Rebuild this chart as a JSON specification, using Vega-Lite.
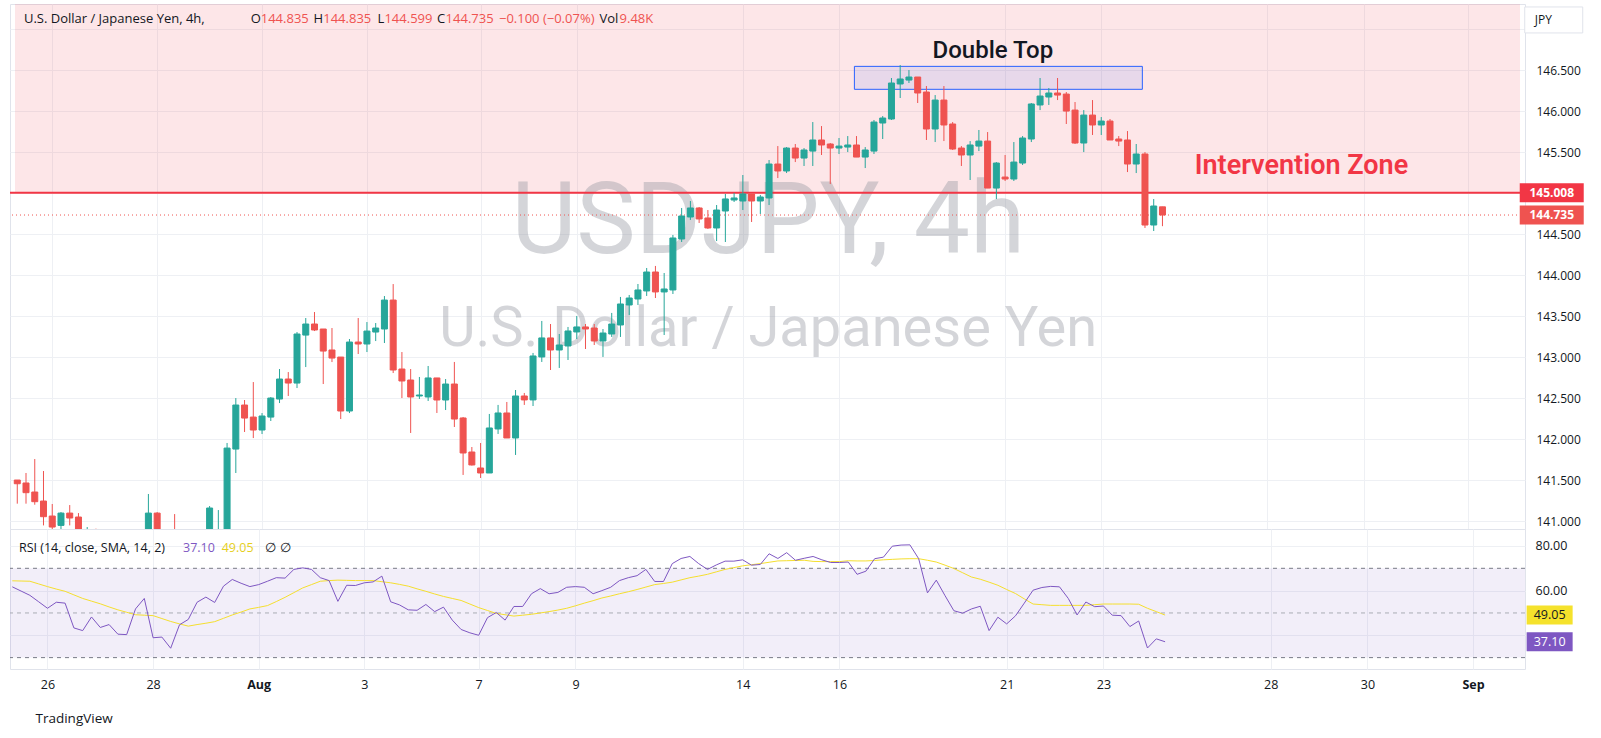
{
  "$schema": "https://vega.github.io/schema/vega-lite/v6.json",
  "background": "#ffffff",
  "padding": {"left": 8, "top": 3, "right": 0, "bottom": 70},
  "bounds": "flush",
  "spacing": 0,
  "config": {
    "view": {"stroke": "#e0e3eb", "strokeWidth": 1},
    "text": {"font": "Open Sans"},
    "axis": {"labelFont": "Open Sans", "titleFont": "Open Sans"}
  },
  "datasets": {
    "candles": [
      {"i":0,"o":141.503,"h":141.503,"l":141.215,"c":141.458},
      {"i":1,"o":141.467,"h":141.589,"l":141.215,"c":141.349},
      {"i":2,"o":141.357,"h":141.759,"l":141.202,"c":141.239},
      {"i":3,"o":141.247,"h":141.613,"l":140.95,"c":141.056},
      {"i":4,"o":141.064,"h":141.211,"l":140.8,"c":140.93},
      {"i":5,"o":140.95,"h":141.113,"l":140.85,"c":141.1},
      {"i":6,"o":141.1,"h":141.198,"l":140.95,"c":141.04},
      {"i":7,"o":141.052,"h":141.1,"l":140.75,"c":140.8},
      {"i":8,"o":140.8,"h":140.93,"l":140.76,"c":140.9},
      {"i":9,"o":140.9,"h":140.91,"l":140.7,"c":140.78},
      {"i":10,"o":140.78,"h":140.86,"l":140.72,"c":140.82},
      {"i":11,"o":140.82,"h":140.85,"l":140.62,"c":140.68},
      {"i":12,"o":140.68,"h":140.74,"l":140.58,"c":140.66},
      {"i":13,"o":140.66,"h":140.76,"l":140.6,"c":140.7},
      {"i":14,"o":140.7,"h":140.9,"l":140.68,"c":140.88},
      {"i":15,"o":140.88,"h":141.333,"l":140.85,"c":141.1},
      {"i":16,"o":141.1,"h":141.113,"l":140.65,"c":140.7},
      {"i":17,"o":140.7,"h":140.8,"l":140.55,"c":140.68},
      {"i":18,"o":140.68,"h":141.088,"l":140.45,"c":140.5},
      {"i":19,"o":140.5,"h":140.8,"l":140.48,"c":140.72},
      {"i":20,"o":140.72,"h":140.85,"l":140.65,"c":140.78},
      {"i":21,"o":140.78,"h":140.9,"l":140.72,"c":140.88},
      {"i":22,"o":140.88,"h":141.186,"l":140.85,"c":141.162},
      {"i":23,"o":140.85,"h":141.137,"l":140.8,"c":140.9},
      {"i":24,"o":140.9,"h":141.955,"l":140.85,"c":141.893},
      {"i":25,"o":141.881,"h":142.503,"l":141.589,"c":142.418},
      {"i":26,"o":142.418,"h":142.479,"l":142.089,"c":142.259},
      {"i":27,"o":142.271,"h":142.698,"l":142.015,"c":142.113},
      {"i":28,"o":142.113,"h":142.32,"l":142.064,"c":142.284},
      {"i":29,"o":142.271,"h":142.515,"l":142.223,"c":142.503},
      {"i":30,"o":142.491,"h":142.857,"l":142.442,"c":142.735},
      {"i":31,"o":142.735,"h":142.82,"l":142.528,"c":142.686},
      {"i":32,"o":142.686,"h":143.308,"l":142.625,"c":143.284},
      {"i":33,"o":143.271,"h":143.479,"l":142.881,"c":143.406},
      {"i":34,"o":143.406,"h":143.552,"l":143.32,"c":143.333},
      {"i":35,"o":143.345,"h":143.345,"l":142.674,"c":143.076},
      {"i":36,"o":143.089,"h":143.357,"l":142.942,"c":142.991},
      {"i":37,"o":143.003,"h":143.003,"l":142.247,"c":142.345},
      {"i":38,"o":142.345,"h":143.223,"l":142.32,"c":143.186},
      {"i":39,"o":143.186,"h":143.479,"l":143.04,"c":143.162},
      {"i":40,"o":143.162,"h":143.43,"l":143.064,"c":143.32},
      {"i":41,"o":143.308,"h":143.418,"l":143.198,"c":143.357},
      {"i":42,"o":143.345,"h":143.747,"l":143.174,"c":143.698},
      {"i":43,"o":143.698,"h":143.893,"l":142.808,"c":142.845},
      {"i":44,"o":142.857,"h":143.064,"l":142.503,"c":142.711},
      {"i":45,"o":142.723,"h":142.857,"l":142.077,"c":142.516},
      {"i":46,"o":142.528,"h":142.76,"l":142.492,"c":142.54},
      {"i":47,"o":142.516,"h":142.894,"l":142.467,"c":142.748},
      {"i":48,"o":142.748,"h":142.748,"l":142.321,"c":142.479},
      {"i":49,"o":142.479,"h":142.735,"l":142.357,"c":142.674},
      {"i":50,"o":142.674,"h":142.943,"l":142.15,"c":142.247},
      {"i":51,"o":142.26,"h":142.272,"l":141.565,"c":141.833},
      {"i":52,"o":141.845,"h":141.906,"l":141.68,"c":141.687},
      {"i":53,"o":141.65,"h":141.955,"l":141.528,"c":141.589},
      {"i":54,"o":141.589,"h":142.309,"l":141.589,"c":142.138},
      {"i":55,"o":142.126,"h":142.419,"l":142.065,"c":142.321},
      {"i":56,"o":142.321,"h":142.455,"l":142.016,"c":142.016},
      {"i":57,"o":142.016,"h":142.601,"l":141.809,"c":142.528},
      {"i":58,"o":142.528,"h":142.565,"l":142.419,"c":142.48},
      {"i":59,"o":142.48,"h":143.053,"l":142.406,"c":143.016},
      {"i":60,"o":143.004,"h":143.443,"l":142.943,"c":143.236},
      {"i":61,"o":143.236,"h":143.406,"l":142.845,"c":143.089},
      {"i":62,"o":143.089,"h":143.284,"l":142.87,"c":143.15},
      {"i":63,"o":143.138,"h":143.37,"l":142.967,"c":143.321},
      {"i":64,"o":143.309,"h":143.504,"l":143.223,"c":143.37},
      {"i":65,"o":143.37,"h":143.406,"l":143.101,"c":143.345},
      {"i":66,"o":143.357,"h":143.406,"l":143.15,"c":143.199},
      {"i":67,"o":143.199,"h":143.345,"l":143.004,"c":143.296},
      {"i":68,"o":143.284,"h":143.541,"l":143.248,"c":143.406},
      {"i":69,"o":143.394,"h":143.736,"l":143.248,"c":143.65},
      {"i":70,"o":143.638,"h":143.76,"l":143.516,"c":143.723},
      {"i":71,"o":143.711,"h":143.894,"l":143.638,"c":143.821},
      {"i":72,"o":143.809,"h":144.089,"l":143.748,"c":144.04},
      {"i":73,"o":144.04,"h":144.114,"l":143.723,"c":143.797},
      {"i":74,"o":143.797,"h":144.028,"l":143.272,"c":143.833},
      {"i":75,"o":143.821,"h":144.492,"l":143.772,"c":144.455},
      {"i":76,"o":144.443,"h":144.821,"l":144.406,"c":144.723},
      {"i":77,"o":144.711,"h":144.906,"l":144.675,"c":144.821},
      {"i":78,"o":144.821,"h":144.833,"l":144.638,"c":144.687},
      {"i":79,"o":144.699,"h":144.796,"l":144.565,"c":144.577},
      {"i":80,"o":144.577,"h":144.857,"l":144.418,"c":144.796},
      {"i":81,"o":144.784,"h":144.992,"l":144.406,"c":144.931},
      {"i":82,"o":144.918,"h":145.004,"l":144.894,"c":144.943},
      {"i":83,"o":144.906,"h":145.223,"l":144.796,"c":144.992},
      {"i":84,"o":144.992,"h":144.992,"l":144.65,"c":144.906},
      {"i":85,"o":144.906,"h":144.98,"l":144.748,"c":144.955},
      {"i":86,"o":144.943,"h":145.406,"l":144.857,"c":145.357},
      {"i":87,"o":145.357,"h":145.576,"l":145.186,"c":145.272},
      {"i":88,"o":145.272,"h":145.564,"l":145.247,"c":145.552},
      {"i":89,"o":145.552,"h":145.601,"l":145.381,"c":145.43},
      {"i":90,"o":145.43,"h":145.552,"l":145.333,"c":145.528},
      {"i":91,"o":145.515,"h":145.869,"l":145.333,"c":145.65},
      {"i":92,"o":145.65,"h":145.82,"l":145.467,"c":145.589},
      {"i":93,"o":145.601,"h":145.613,"l":145.113,"c":145.552},
      {"i":94,"o":145.552,"h":145.674,"l":145.479,"c":145.576},
      {"i":95,"o":145.564,"h":145.698,"l":145.503,"c":145.589},
      {"i":96,"o":145.589,"h":145.698,"l":145.442,"c":145.442},
      {"i":97,"o":145.442,"h":145.564,"l":145.308,"c":145.528},
      {"i":98,"o":145.515,"h":145.894,"l":145.479,"c":145.869},
      {"i":99,"o":145.857,"h":145.942,"l":145.662,"c":145.918},
      {"i":100,"o":145.906,"h":146.406,"l":145.894,"c":146.345},
      {"i":101,"o":146.333,"h":146.564,"l":146.162,"c":146.394},
      {"i":102,"o":146.381,"h":146.503,"l":146.345,"c":146.418},
      {"i":103,"o":146.418,"h":146.418,"l":146.101,"c":146.223},
      {"i":104,"o":146.235,"h":146.308,"l":145.65,"c":145.784},
      {"i":105,"o":145.784,"h":146.198,"l":145.625,"c":146.137},
      {"i":106,"o":146.137,"h":146.308,"l":145.637,"c":145.833},
      {"i":107,"o":145.845,"h":145.869,"l":145.528,"c":145.54},
      {"i":108,"o":145.552,"h":145.576,"l":145.333,"c":145.467},
      {"i":109,"o":145.467,"h":145.637,"l":145.162,"c":145.589},
      {"i":110,"o":145.576,"h":145.772,"l":145.515,"c":145.637},
      {"i":111,"o":145.637,"h":145.747,"l":145.064,"c":145.064},
      {"i":112,"o":145.064,"h":145.381,"l":144.93,"c":145.369},
      {"i":113,"o":145.198,"h":145.467,"l":145.15,"c":145.174},
      {"i":114,"o":145.174,"h":145.625,"l":145.15,"c":145.381},
      {"i":115,"o":145.369,"h":145.698,"l":145.345,"c":145.674},
      {"i":116,"o":145.662,"h":146.101,"l":145.625,"c":146.089},
      {"i":117,"o":146.077,"h":146.406,"l":146.015,"c":146.186},
      {"i":118,"o":146.174,"h":146.284,"l":146.077,"c":146.223},
      {"i":119,"o":146.223,"h":146.406,"l":146.137,"c":146.198},
      {"i":120,"o":146.21,"h":146.235,"l":145.845,"c":146.003},
      {"i":121,"o":146.015,"h":146.113,"l":145.601,"c":145.613},
      {"i":122,"o":145.613,"h":146.015,"l":145.503,"c":145.954},
      {"i":123,"o":145.954,"h":146.137,"l":145.711,"c":145.833},
      {"i":124,"o":145.833,"h":145.93,"l":145.711,"c":145.881},
      {"i":125,"o":145.881,"h":145.906,"l":145.65,"c":145.65},
      {"i":126,"o":145.662,"h":145.698,"l":145.576,"c":145.637},
      {"i":127,"o":145.65,"h":145.759,"l":145.259,"c":145.357},
      {"i":128,"o":145.357,"h":145.601,"l":145.247,"c":145.479},
      {"i":129,"o":145.479,"h":145.503,"l":144.577,"c":144.613},
      {"i":130,"o":144.613,"h":144.93,"l":144.54,"c":144.845},
      {"i":131,"o":144.835,"h":144.835,"l":144.599,"c":144.735}
    ],
    "rsi": [
      {"i":0,"r":61.7,"s":64.4},{"i":1,"r":59.8,"s":64.3},{"i":2,"r":57.9,"s":64.2},{"i":3,"r":55.0,"s":63.0},
      {"i":4,"r":52.1,"s":61.8},{"i":5,"r":54.8,"s":60.7},{"i":6,"r":54.4,"s":59.7},{"i":7,"r":43.3,"s":58.1},
      {"i":8,"r":42.1,"s":56.5},{"i":9,"r":48.2,"s":55.3},{"i":10,"r":43.5,"s":54.1},{"i":11,"r":44.8,"s":52.7},
      {"i":12,"r":40.5,"s":51.4},{"i":13,"r":40.3,"s":50.3},{"i":14,"r":51.8,"s":49.2},{"i":15,"r":56.5,"s":49.0},
      {"i":16,"r":38.9,"s":48.8},{"i":17,"r":39.2,"s":47.5},{"i":18,"r":34.2,"s":46.2},{"i":19,"r":44.7,"s":45.1},
      {"i":20,"r":47.1,"s":44.1},{"i":21,"r":54.8,"s":44.8},{"i":22,"r":57.1,"s":45.4},{"i":23,"r":54.7,"s":46.1},
      {"i":24,"r":62.0,"s":47.6},{"i":25,"r":65.0,"s":49.1},{"i":26,"r":63.3,"s":50.4},{"i":27,"r":61.8,"s":51.8},
      {"i":28,"r":62.7,"s":52.5},{"i":29,"r":64.2,"s":53.3},{"i":30,"r":65.8,"s":55.1},{"i":31,"r":65.6,"s":57.0},
      {"i":32,"r":69.5,"s":59.1},{"i":33,"r":70.2,"s":61.2},{"i":34,"r":69.5,"s":62.7},{"i":35,"r":65.8,"s":64.2},
      {"i":36,"r":64.5,"s":64.5},{"i":37,"r":55.2,"s":64.7},{"i":38,"r":62.4,"s":64.6},{"i":39,"r":62.3,"s":64.5},
      {"i":40,"r":63.5,"s":64.5},{"i":41,"r":63.9,"s":64.5},{"i":42,"r":66.5,"s":64.0},{"i":43,"r":55.0,"s":63.5},
      {"i":44,"r":53.6,"s":62.8},{"i":45,"r":51.4,"s":62.0},{"i":46,"r":51.2,"s":60.8},{"i":47,"r":53.8,"s":59.7},
      {"i":48,"r":50.6,"s":58.5},{"i":49,"r":52.6,"s":57.4},{"i":50,"r":46.8,"s":56.5},{"i":51,"r":42.6,"s":55.6},
      {"i":52,"r":41.1,"s":54.0},{"i":53,"r":40.0,"s":52.4},{"i":54,"r":47.9,"s":51.1},{"i":55,"r":50.2,"s":49.8},
      {"i":56,"r":46.8,"s":49.2},{"i":57,"r":52.9,"s":48.6},{"i":58,"r":52.9,"s":49.0},{"i":59,"r":58.6,"s":49.4},
      {"i":60,"r":60.9,"s":50.0},{"i":61,"r":58.6,"s":50.6},{"i":62,"r":59.2,"s":51.3},{"i":63,"r":61.5,"s":52.1},
      {"i":64,"r":61.8,"s":53.2},{"i":65,"r":61.5,"s":54.4},{"i":66,"r":58.6,"s":55.5},{"i":67,"r":60.0,"s":56.7},
      {"i":68,"r":61.5,"s":57.6},{"i":69,"r":64.5,"s":58.6},{"i":70,"r":65.8,"s":59.5},{"i":71,"r":66.7,"s":60.5},
      {"i":72,"r":69.5,"s":61.6},{"i":73,"r":64.1,"s":62.7},{"i":74,"r":64.1,"s":63.2},{"i":75,"r":72.1,"s":63.8},
      {"i":76,"r":74.4,"s":64.8},{"i":77,"r":75.3,"s":65.8},{"i":78,"r":72.1,"s":66.5},{"i":79,"r":69.5,"s":67.3},
      {"i":80,"r":71.5,"s":68.4},{"i":81,"r":73.2,"s":69.5},{"i":82,"r":73.2,"s":70.3},{"i":83,"r":73.8,"s":71.1},
      {"i":84,"r":71.4,"s":71.6},{"i":85,"r":71.7,"s":72.1},{"i":86,"r":76.5,"s":72.7},{"i":87,"r":74.4,"s":73.3},
      {"i":88,"r":77.0,"s":73.4},{"i":89,"r":73.6,"s":73.5},{"i":90,"r":74.5,"s":73.6},{"i":91,"r":75.3,"s":73.1},
      {"i":92,"r":73.8,"s":73.0},{"i":93,"r":72.6,"s":73.0},{"i":94,"r":72.6,"s":73.0},{"i":95,"r":72.8,"s":73.4},
      {"i":96,"r":67.3,"s":73.3},{"i":97,"r":68.7,"s":73.3},{"i":98,"r":74.3,"s":73.5},{"i":99,"r":75.0,"s":73.8},
      {"i":100,"r":79.9,"s":74.0},{"i":101,"r":80.4,"s":74.2},{"i":102,"r":80.5,"s":74.3},{"i":103,"r":74.3,"s":74.3},
      {"i":104,"r":59.0,"s":73.6},{"i":105,"r":64.7,"s":72.8},{"i":106,"r":57.7,"s":71.4},{"i":107,"r":51.0,"s":69.9},
      {"i":108,"r":49.9,"s":68.0},{"i":109,"r":51.8,"s":66.1},{"i":110,"r":53.0,"s":65.1},{"i":111,"r":42.1,"s":63.8},
      {"i":112,"r":48.1,"s":62.4},{"i":113,"r":45.1,"s":60.5},{"i":114,"r":48.7,"s":58.7},{"i":115,"r":54.4,"s":56.3},
      {"i":116,"r":60.2,"s":54.0},{"i":117,"r":61.4,"s":53.7},{"i":118,"r":61.9,"s":53.4},{"i":119,"r":61.7,"s":53.4},
      {"i":120,"r":56.5,"s":53.4},{"i":121,"r":49.1,"s":53.4},{"i":122,"r":54.9,"s":53.4},{"i":123,"r":52.8,"s":53.7},
      {"i":124,"r":53.1,"s":54.0},{"i":125,"r":49.0,"s":54.0},{"i":126,"r":48.8,"s":54.0},{"i":127,"r":43.9,"s":54.0},
      {"i":128,"r":46.4,"s":53.9},{"i":129,"r":34.3,"s":52.1},{"i":130,"r":38.4,"s":50.6},{"i":131,"r":37.1,"s":49.05}
    ]
  },
  "vconcat": [
    {
      "width": 1515,
      "height": 525,
      "layer": [
        {
          "data": {"values": [{"zone": "Intervention Zone", "lo": 145.008, "hi": 147.6}]},
          "mark": {"type": "rect", "color": "#f23645", "opacity": 0.124, "clip": true},
          "encoding": {
            "x": {"datum": -0.26, "type": "quantitative", "title": null,
              "scale": {"domain": [-0.26, 171.9], "nice": false, "zero": false},
              "axis": {"values": [4,16,28,40,53,64,83,94,113,124,143,154,166], "labels": false, "ticks": false, "domain": false, "grid": true, "gridColor": "#eef0f4", "title": null}},
            "x2": {"datum": 171.9},
            "y": {"field": "lo", "type": "quantitative", "title": null,
              "scale": {"domain": [140.906, 147.3085], "nice": false, "zero": false},
              "axis": {"orient": "right", "values": [141,141.5,142,142.5,143,143.5,144,144.5,145,145.5,146,146.5,147], "format": ".3f",
                "labelExpr": "(datum.value > 146.9 || datum.value == 145) ? '' : datum.label",
                "grid": true, "gridColor": "#eef0f4", "ticks": false, "domain": false, "labelPadding": 11,
                "labelFontSize": 12, "labelColor": "#131722", "labelOverlap": false, "labelBound": false, "title": null}},
            "y2": {"field": "hi"}
          }
        },
        {
          "data": {"values": [{"t": "USDJPY, 4h"}]},
          "mark": {"type": "text", "font": "Roboto", "fontSize": 100, "align": "center", "baseline": "alphabetic", "color": "#9598a1", "opacity": 0.4},
          "encoding": {"x": {"datum": 85.9, "type": "quantitative"}, "y": {"datum": 144.272, "type": "quantitative"}, "text": {"field": "t"}}
        },
        {
          "data": {"values": [{"t": "U.S. Dollar / Japanese Yen"}]},
          "mark": {"type": "text", "font": "Roboto", "fontSize": 56, "align": "center", "baseline": "alphabetic", "color": "#9598a1", "opacity": 0.4},
          "encoding": {"x": {"datum": 85.9, "type": "quantitative"}, "y": {"datum": 143.14, "type": "quantitative"}, "text": {"field": "t"}}
        },
        {
          "data": {"values": [{"a": 95.76, "b": 128.7, "lo": 146.268, "hi": 146.548}]},
          "mark": {"type": "rect", "fill": "#2962ff", "fillOpacity": 0.1, "stroke": "#2962ff", "strokeWidth": 1},
          "encoding": {
            "x": {"field": "a", "type": "quantitative", "title": null}, "x2": {"field": "b"},
            "y": {"field": "lo", "type": "quantitative", "title": null}, "y2": {"field": "hi"}
          }
        },
        {
          "data": {"values": [{"p": 145.008}]},
          "mark": {"type": "rule", "color": "#f23645", "strokeWidth": 2},
          "encoding": {"y": {"field": "p", "type": "quantitative", "title": null}}
        },
        {
          "data": {"values": [{"p": 144.735}]},
          "mark": {"type": "rule", "color": "#ef5350", "strokeWidth": 1, "strokeDash": [1, 3]},
          "encoding": {"y": {"field": "p", "type": "quantitative", "title": null}}
        },
        {
          "data": {"name": "candles"},
          "mark": {"type": "rule", "strokeWidth": 1, "clip": true},
          "encoding": {
            "x": {"field": "i", "type": "quantitative", "title": null},
            "y": {"field": "l", "type": "quantitative", "title": null},
            "y2": {"field": "h"},
            "color": {"condition": {"test": "datum.c >= datum.o", "value": "#26a69a"}, "value": "#ef5350"}
          }
        },
        {
          "data": {"name": "candles"},
          "mark": {"type": "bar", "size": 6, "strokeWidth": 1, "clip": true},
          "encoding": {
            "x": {"field": "i", "type": "quantitative", "title": null},
            "y": {"field": "o", "type": "quantitative", "title": null},
            "y2": {"field": "c"},
            "color": {"condition": {"test": "datum.c >= datum.o", "value": "#26a69a"}, "value": "#ef5350"},
            "stroke": {"condition": {"test": "datum.c >= datum.o", "value": "#26a69a"}, "value": "#ef5350"}
          }
        },
        {
          "data": {"values": [{"t": "Double Top"}]},
          "mark": {"type": "text", "font": "Roboto", "fontSize": 24, "fontWeight": 500, "align": "center", "baseline": "alphabetic", "color": "#131722"},
          "encoding": {"x": {"datum": 111.6, "type": "quantitative"}, "y": {"datum": 146.65, "type": "quantitative"}, "text": {"field": "t"}}
        },
        {
          "data": {"values": [{"t": "Intervention Zone"}]},
          "mark": {"type": "text", "font": "Roboto", "fontSize": 27, "fontWeight": 600, "align": "center", "baseline": "alphabetic", "color": "#f23645"},
          "encoding": {"x": {"datum": 146.9, "type": "quantitative"}, "y": {"datum": 145.236, "type": "quantitative"}, "text": {"field": "t"}}
        },
        {
          "data": {"values": [
            {"i": 0.76, "t": "U.S. Dollar / Japanese Yen, 4h,", "k": "n"},
            {"i": 26.7, "t": "O", "k": "n"}, {"i": 27.85, "t": "144.835", "k": "v"},
            {"i": 33.9, "t": "H", "k": "n"}, {"i": 35.0, "t": "144.835", "k": "v"},
            {"i": 41.2, "t": "L", "k": "n"}, {"i": 42.0, "t": "144.599", "k": "v"},
            {"i": 48.0, "t": "C", "k": "n"}, {"i": 49.0, "t": "144.735", "k": "v"},
            {"i": 55.1, "t": "−0.100 (−0.07%)", "k": "v"},
            {"i": 66.6, "t": "Vol", "k": "n"}, {"i": 68.9, "t": "9.48K", "k": "v"}
          ]},
          "mark": {"type": "text", "fontSize": 13, "align": "left", "baseline": "middle"},
          "encoding": {
            "x": {"field": "i", "type": "quantitative", "title": null},
            "y": {"datum": 147.126, "type": "quantitative"},
            "text": {"field": "t"},
            "color": {"condition": {"test": "datum.k == 'v'", "value": "#ef5350"}, "value": "#131722"}
          }
        },
        {
          "data": {"values": [{"p": 145.008, "t": "145.008", "k": "line"}, {"p": 144.735, "t": "144.735", "k": "last"}]},
          "mark": {"type": "point", "shape": "M-1,-0.297L1,-0.297L1,0.297L-1,0.297Z", "size": 4096, "filled": true, "opacity": 1, "strokeWidth": 0},
          "encoding": {
            "x": {"datum": 175.53, "type": "quantitative"},
            "y": {"field": "p", "type": "quantitative", "title": null},
            "color": {"condition": {"test": "datum.k == 'line'", "value": "#f23645"}, "value": "#ef5350"}
          }
        },
        {
          "data": {"values": [{"p": 145.008, "t": "145.008"}, {"p": 144.735, "t": "144.735"}]},
          "mark": {"type": "text", "fontSize": 12, "fontWeight": "bold", "align": "center", "baseline": "middle", "color": "#ffffff"},
          "encoding": {
            "x": {"datum": 175.53, "type": "quantitative"},
            "y": {"field": "p", "type": "quantitative", "title": null},
            "text": {"field": "t"}
          }
        },
        {
          "data": {"values": [{"t": "JPY"}]},
          "mark": {"type": "point", "shape": "M-1,-0.448L1,-0.448L1,0.448L-1,0.448Z", "size": 3364, "filled": true, "fill": "#ffffff", "stroke": "#e0e3eb", "strokeWidth": 1, "opacity": 1},
          "encoding": {"x": {"datum": 175.76, "type": "quantitative"}, "y": {"datum": 147.114, "type": "quantitative"}}
        },
        {
          "data": {"values": [{"t": "JPY"}]},
          "mark": {"type": "text", "fontSize": 12, "align": "left", "baseline": "middle", "color": "#131722"},
          "encoding": {"x": {"datum": 173.6, "type": "quantitative"}, "y": {"datum": 147.114, "type": "quantitative"}, "text": {"field": "t"}}
        }
      ]
    },
    {
      "width": 1515,
      "height": 140,
      "layer": [
        {
          "data": {"values": [{"lo": 30, "hi": 70}]},
          "mark": {"type": "rect", "color": "#7e57c2", "opacity": 0.1},
          "encoding": {
            "x": {"datum": -0.26, "type": "quantitative",
              "scale": {"domain": [-0.26, 171.9], "nice": false, "zero": false},
              "axis": {"values": [4,16,28,40,53,64,83,94,113,124,143,154,166],
                "labelExpr": "datum.value==4?'26':datum.value==16?'28':datum.value==28?'Aug':datum.value==40?'3':datum.value==53?'7':datum.value==64?'9':datum.value==83?'14':datum.value==94?'16':datum.value==113?'21':datum.value==124?'23':datum.value==143?'28':datum.value==154?'30':datum.value==166?'Sep':''",
                "labelFontWeight": {"condition": {"test": "datum.value == 28 || datum.value == 166", "value": "bold"}, "value": "normal"},
                "labelFontSize": 12.5, "labelColor": "#131722", "labelPadding": 9, "labelOverlap": false, "labelBound": false,
                "ticks": false, "domain": false, "grid": true, "gridColor": "#eef0f4",
                "title": "TradingView", "titleAnchor": "start", "titleAlign": "left", "titleX": 25, "titleY": 49,
                "titleBaseline": "middle", "titleFontSize": 13.5, "titleFontWeight": 500, "titleColor": "#131722"}},
            "x2": {"datum": 171.9},
            "y": {"field": "lo", "type": "quantitative", "title": null,
              "scale": {"domain": [24.9, 87.6], "nice": false, "zero": false},
              "axis": {"orient": "right", "values": [40, 60, 80], "format": ".2f",
                "labelExpr": "datum.value == 40 ? '' : datum.label",
                "grid": true, "gridColor": "#eef0f4",
                "ticks": false, "domain": false, "labelPadding": 10, "labelFontSize": 12.5, "labelColor": "#131722",
                "labelOverlap": false, "labelBound": false, "title": null}},
            "y2": {"field": "hi"}
          }
        },
        {
          "data": {"values": [{"v": 70, "k": "b"}, {"v": 30, "k": "b"}, {"v": 50, "k": "m"}]},
          "mark": {"type": "rule", "strokeWidth": 1, "strokeDash": [4, 4]},
          "encoding": {
            "y": {"field": "v", "type": "quantitative", "title": null},
            "color": {"condition": {"test": "datum.k == 'm'", "value": "#a9acb5"}, "value": "#787b86"}
          }
        },
        {
          "data": {"name": "rsi"},
          "mark": {"type": "line", "color": "#f5df2e", "strokeWidth": 1},
          "encoding": {"x": {"field": "i", "type": "quantitative"}, "y": {"field": "s", "type": "quantitative", "title": null}}
        },
        {
          "data": {"name": "rsi"},
          "mark": {"type": "line", "color": "#7e57c2", "strokeWidth": 1},
          "encoding": {"x": {"field": "i", "type": "quantitative"}, "y": {"field": "r", "type": "quantitative", "title": null}}
        },
        {
          "data": {"values": [
            {"i": 0.76, "t": "RSI (14, close, SMA, 14, 2)", "k": "n"},
            {"i": 19.4, "t": "37.10", "k": "r"},
            {"i": 23.8, "t": "49.05", "k": "s"},
            {"i": 28.7, "t": "∅", "k": "n"},
            {"i": 30.4, "t": "∅", "k": "n"}
          ]},
          "mark": {"type": "text", "fontSize": 12.5, "align": "left", "baseline": "middle"},
          "encoding": {
            "x": {"field": "i", "type": "quantitative"},
            "y": {"datum": 79.3, "type": "quantitative"},
            "text": {"field": "t"},
            "color": {"condition": [{"test": "datum.k == 'r'", "value": "#7e57c2"}, {"test": "datum.k == 's'", "value": "#e6cf1c"}], "value": "#131722"}
          }
        },
        {
          "data": {"values": [{"p": 49.05, "t": "49.05", "k": "s"}, {"p": 37.1, "t": "37.10", "k": "r"}]},
          "mark": {"type": "point", "shape": "M-1,-0.413L1,-0.413L1,0.413L-1,0.413Z", "size": 2116, "filled": true, "opacity": 1, "strokeWidth": 0},
          "encoding": {
            "x": {"datum": 174.7, "type": "quantitative"},
            "y": {"field": "p", "type": "quantitative", "title": null},
            "color": {"condition": {"test": "datum.k == 's'", "value": "#f5e22c"}, "value": "#7e57c2"}
          }
        },
        {
          "data": {"values": [{"p": 49.05, "t": "49.05", "k": "s"}, {"p": 37.1, "t": "37.10", "k": "r"}]},
          "mark": {"type": "text", "fontSize": 12.5, "align": "center", "baseline": "middle"},
          "encoding": {
            "x": {"datum": 174.7, "type": "quantitative"},
            "y": {"field": "p", "type": "quantitative", "title": null},
            "text": {"field": "t"},
            "color": {"condition": {"test": "datum.k == 's'", "value": "#131722"}, "value": "#ffffff"}
          }
        }
      ]
    }
  ]
}
